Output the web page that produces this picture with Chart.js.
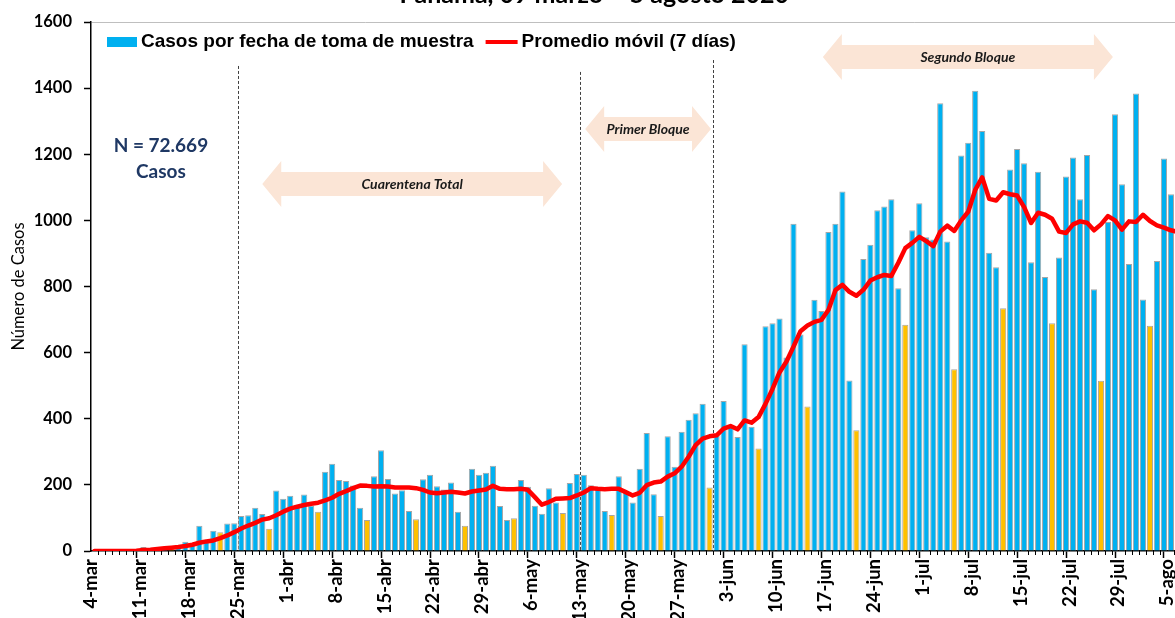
<!DOCTYPE html>
<html lang="es">
<head>
<meta charset="utf-8">
<title>Casos por fecha de toma de muestra - Panamá</title>
<script src="https://cdn.jsdelivr.net/npm/chart.js@4.4.1/dist/chart.umd.min.js"></script>
<style>
  html, body { margin: 0; padding: 0; background: #fff; overflow: hidden; }
  #marco { position: relative; width: 1175px; height: 618px; overflow: hidden; }
  #grafico { position: absolute; left: 0; top: -20px; }
</style>
</head>
<body>
<div id="marco"><canvas id="grafico" width="1200" height="641"></canvas></div>
<script>
// Etiquetas semanales del eje X (una cada 7 dias, desde el 4-mar)
const etiquetas = ['4-mar', '11-mar', '18-mar', '25-mar', '1-abr', '8-abr', '15-abr', '22-abr',
    '29-abr', '6-may', '13-may', '20-may', '27-may', '3-jun', '10-jun', '17-jun', '24-jun',
    '1-jul', '8-jul', '15-jul', '22-jul', '29-jul', '5-ago'];

// Casos diarios por fecha de toma de muestra (4-mar en adelante)
const casos = [
    0, 0, 0, 0, 0, 1, 1, 12, 3, 8,
    10, 14, 18, 28, 22, 76, 27, 61, 57, 83,
    84, 106, 108, 131, 112, 67, 183, 158, 167, 140,
    171, 137, 119, 240, 264, 215, 212, 198, 131, 94,
    226, 305, 218, 174, 184, 121, 96, 217, 231, 196,
    186, 207, 119, 76, 249, 231, 237, 258, 136, 94,
    99, 215, 194, 137, 113, 190, 147, 115, 206, 233,
    231, 199, 185, 121, 109, 226, 180, 147, 249, 357,
    172, 106, 347, 255, 361, 397, 417, 445, 192, 350,
    454, 380, 345, 625, 376, 310, 680, 689, 703, 585,
    990, 655, 437, 760, 726, 965, 990, 1087, 516, 365,
    883, 926, 1031, 1042, 1064, 795, 684, 970, 1052, 949,
    942, 1354, 936, 550, 1196, 1235, 1392, 1270, 902, 858,
    734, 1154, 1216, 1173, 873, 1147, 829, 689, 888, 1133,
    1190, 1064, 1198, 792, 515, 995, 1321, 1109, 868, 1384,
    761, 681, 877, 1187, 1079, 800
];

const promedio = [
    0, 0, 0, 0, 0, 0, 1, 3, 4, 6,
    8, 10, 12, 15, 19, 25, 29, 32, 39, 47,
    57, 68, 77, 85, 95, 99, 108, 119, 128, 134,
    139, 143, 146, 153, 161, 173, 181, 190, 198, 197,
    195, 196, 195, 192, 192, 192, 190, 185, 177, 175,
    177, 179, 177, 174, 180, 183, 186, 197, 188, 187,
    187, 188, 185, 163, 140, 148, 158, 159, 160, 168,
    177, 190, 188, 187, 188, 188, 178, 168, 176, 199,
    207, 210, 225, 235, 255, 285, 320, 340, 347, 350,
    370, 378, 368, 395, 388, 405, 445, 490, 540, 573,
    618, 665, 682, 693, 699, 729, 789, 805, 784, 772,
    790, 818, 828, 835, 832, 872, 916, 932, 950, 937,
    922, 966, 984, 968, 1000, 1026, 1092, 1130, 1065, 1060,
    1085, 1079, 1075, 1040, 992, 1023, 1017, 1005, 966, 962,
    988, 997, 993, 970, 988, 1013, 1000, 972, 997, 995,
    1017, 998, 985, 978, 970, 965
];

const AZUL = '#00B0F0';
const NARANJA = '#FFC000';
const ROJO = '#FF0000';
const FUENTE = 'Lato';

// Anotaciones (en unidades de dia / casos)
const cortes = [
    { dia: 21, tope: 1467 },
    { dia: 70, tope: 1449 },
    { dia: 89, tope: 1485 }
];
const bloques = [
    { texto: 'Cuarentena Total', desde: 24.5, hasta: 67.4, nivel: 1110 },
    { texto: 'Primer Bloque', desde: 70.7, hasta: 88.7, nivel: 1276 },
    { texto: 'Segundo Bloque', desde: 104.7, hasta: 146.2, nivel: 1494 }
];

Chart.defaults.font.family = FUENTE;
Chart.defaults.color = '#000';

function flechaDoble(ctx, x1, x2, yc) {
    const alto = 46, cuerpo = 24, punta = 19;
    ctx.beginPath();
    ctx.moveTo(x1, yc);
    ctx.lineTo(x1 + punta, yc - alto / 2);
    ctx.lineTo(x1 + punta, yc - cuerpo / 2);
    ctx.lineTo(x2 - punta, yc - cuerpo / 2);
    ctx.lineTo(x2 - punta, yc - alto / 2);
    ctx.lineTo(x2, yc);
    ctx.lineTo(x2 - punta, yc + alto / 2);
    ctx.lineTo(x2 - punta, yc + cuerpo / 2);
    ctx.lineTo(x1 + punta, yc + cuerpo / 2);
    ctx.lineTo(x1 + punta, yc + alto / 2);
    ctx.closePath();
    ctx.fill();
}

const anotaciones = {
    id: 'anotaciones',
    beforeDatasetsDraw(chart) {
        const { ctx, scales: { x, y } } = chart;
        ctx.save();
        ctx.strokeStyle = '#404040';
        ctx.lineWidth = 1;
        ctx.setLineDash([3, 2]);
        cortes.forEach(c => {
            const px = Math.round(x.getPixelForValue(c.dia)) + 0.5;
            ctx.beginPath();
            ctx.moveTo(px, y.getPixelForValue(c.tope));
            ctx.lineTo(px, y.getPixelForValue(0));
            ctx.stroke();
        });
        ctx.restore();
    },
    afterDraw(chart) {
        const { ctx, chartArea, scales: { x, y } } = chart;
        ctx.save();

        // flechas de los bloques
        bloques.forEach(b => {
            const x1 = x.getPixelForValue(b.desde);
            const x2 = x.getPixelForValue(b.hasta);
            const yc = y.getPixelForValue(b.nivel);
            ctx.fillStyle = '#FBE5D6';
            flechaDoble(ctx, x1, x2, yc);
            ctx.fillStyle = '#1a1a1a';
            ctx.font = 'italic bold 14px ' + FUENTE;
            ctx.textAlign = 'center';
            ctx.textBaseline = 'middle';
            ctx.fillText(b.texto, (x1 + x2) / 2, yc);
        });

        // total de casos
        ctx.fillStyle = '#1F3864';
        ctx.font = 'bold 19px ' + FUENTE;
        ctx.textAlign = 'center';
        ctx.textBaseline = 'middle';
        ctx.fillText('N = 72.669', x.getPixelForValue(10), y.getPixelForValue(1225));
        ctx.fillText('Casos', x.getPixelForValue(10), y.getPixelForValue(1146));

        // marcas menores del eje X (una por dia)
        ctx.strokeStyle = '#000';
        ctx.lineWidth = 1;
        for (let d = 1; d <= x.max; d++) {
            if (d % 7 === 0) continue;
            const px = Math.round(x.getPixelForValue(d)) + 0.5;
            ctx.beginPath();
            ctx.moveTo(px, chartArea.bottom);
            ctx.lineTo(px, chartArea.bottom + 4);
            ctx.stroke();
        }

        // leyenda dentro del area
        const ly = chartArea.top + 20;
        let lx = chartArea.left + 16;
        ctx.font = 'bold 19px "Liberation Sans"';
        ctx.textAlign = 'left';
        ctx.textBaseline = 'middle';
        const sets = chart.data.datasets;
        ctx.fillStyle = AZUL;
        ctx.fillRect(lx, ly - 5, 30, 10);
        lx += 34;
        ctx.fillStyle = '#000';
        ctx.fillText(sets[0].label, lx, ly);
        lx += ctx.measureText(sets[0].label).width + 12;
        ctx.strokeStyle = ROJO;
        ctx.lineWidth = 4;
        ctx.beginPath();
        ctx.moveTo(lx, ly);
        ctx.lineTo(lx + 32, ly);
        ctx.stroke();
        lx += 36;
        ctx.fillText(sets[1].label, lx, ly);

        ctx.restore();
    }
};

new Chart(document.getElementById('grafico'), {
    type: 'bar',
    data: {
        datasets: [{
            type: 'bar',
            label: 'Casos por fecha de toma de muestra',
            data: casos.map((v, i) => ({ x: i + 0.5, y: v })),
            backgroundColor: casos.map((v, i) => (i % 7 === 4 ? NARANJA : AZUL)),
            borderColor: '#A6A6A6',
            borderWidth: 1,
            barPercentage: 0.88,
            categoryPercentage: 1,
            order: 1
        }, {
            type: 'line',
            label: 'Promedio móvil (7 días)',
            data: promedio.map((v, i) => ({ x: i + 0.5, y: v })),
            borderColor: ROJO,
            borderWidth: 4.5,
            pointRadius: 0,
            tension: 0,
            borderJoinStyle: 'round',
            borderCapStyle: 'round',
            order: 0
        }]
    },
    options: {
        responsive: false,
        animation: false,
        layout: { padding: { left: 0, right: 11.6, top: 0, bottom: 0 } },
        plugins: {
            legend: { display: false },
            tooltip: { enabled: false },
            title: {
                display: true,
                text: 'Panamá, 09 marzo – 5 agosto 2020',
                font: { family: FUENTE, size: 25, weight: 'bold' },
                color: '#000',
                padding: { top: 0, bottom: 12 }
            }
        },
        scales: {
            x: {
                type: 'linear',
                min: 0,
                max: 157,
                offset: false,
                grid: {
                    drawOnChartArea: false,
                    tickLength: 7,
                    tickWidth: 1.5,
                    tickColor: (c) => (c.tick && c.tick.value % 7 === 0 ? '#000' : 'rgba(0,0,0,0)')
                },
                border: { color: '#000', width: 1.5 },
                ticks: {
                    stepSize: 1,
                    autoSkip: false,
                    minRotation: 90,
                    maxRotation: 90,
                    padding: 1,
                    color: '#000',
                    font: { family: FUENTE, size: 18.5, weight: 'bold' },
                    callback: (v) => (v % 7 === 0 ? (etiquetas[v / 7] || '') : '')
                },
                afterFit: (s) => { s.height = 70; s.paddingLeft = 0; s.paddingRight = 0; }
            },
            y: {
                min: 0,
                max: 1600,
                grid: {
                    color: (c) => (c.tick && c.tick.value === 1600 ? '#BFBFBF' : 'rgba(0,0,0,0)'),
                    tickColor: '#000',
                    tickLength: 7,
                    tickWidth: 1.5
                },
                border: { color: '#000', width: 1.5 },
                ticks: {
                    stepSize: 200,
                    padding: 12,
                    color: '#000',
                    font: { family: FUENTE, size: 16.5, weight: 'bold' },
                    callback: (v) => String(v)
                },
                title: {
                    display: true,
                    text: 'Número de Casos',
                    color: '#000',
                    font: { family: FUENTE, size: 16.5 },
                    padding: { top: 9, bottom: 0 }
                },
                afterFit: (s) => { s.width = 91; }
            }
        }
    },
    plugins: [anotaciones]
});
</script>
</body>
</html>
